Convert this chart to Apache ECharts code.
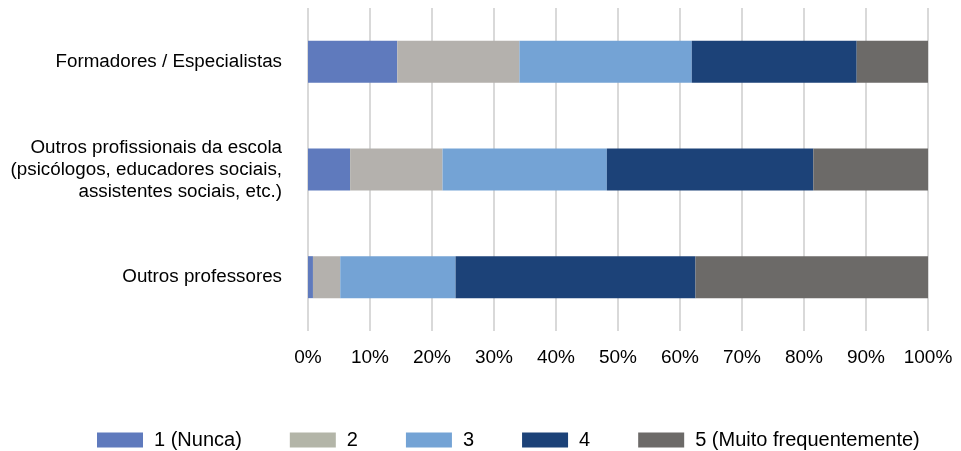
<!DOCTYPE html>
<html>
<head>
<meta charset="utf-8">
<script src="https://cdn.jsdelivr.net/npm/echarts@6/dist/echarts.min.js"></script>
<style>
  html, body { margin: 0; padding: 0; background: #fff; }
  #main { width: 961px; height: 451px; }
</style>
</head>
<body>
<div id="main"></div>
<script>
// categories bottom to top
let categories = [
  'Outros professores',
  'Outros profissionais da escola\n(psicólogos, educadores sociais,\nassistentes sociais, etc.)',
  'Formadores / Especialistas'
];
let seriesNames = ['1 (Nunca)', '2', '3', '4', '5 (Muito frequentemente)'];
let s1 = [0.8, 6.8, 14.4];
let s2 = [4.4, 14.9, 19.7];
let s3 = [18.6, 26.5, 27.8];
let s4 = [38.7, 33.3, 26.6];
let s5 = [37.5, 18.5, 11.5];
let colors = ['#5f7abd', '#b4b1ad', '#74a3d5', '#1c4278', '#6c6a68'];

let chartDom = document.getElementById('main');
let myChart = echarts.init(chartDom);

let values = [s1, s2, s3, s4, s5];
let series = values.map((v, i) => {
  return {
    name: seriesNames[i],
    type: 'bar',
    stack: 'total',
    barWidth: '39%',
    data: v,
    itemStyle: { color: colors[i] }
  };
});

let option = {
  animation: false,
  textStyle: { fontFamily: 'Liberation Sans' },
  grid: { left: 308, right: 33, top: 8, bottom: 120 },
  legend: {
    top: 425,
    left: 92,
    itemWidth: 46,
    itemHeight: 15,
    itemGap: 48,
    icon: 'rect',
    textStyle: { fontSize: 20, color: '#000', fontFamily: 'Liberation Sans', padding: [0, 0, 0, 6] },
    data: seriesNames.map((n, i) => ({ name: n, itemStyle: { color: i == 1 ? '#b3b5a8' : colors[i] } }))
  },
  xAxis: {
    type: 'value',
    min: 0,
    max: 100,
    interval: 10,
    axisLabel: { formatter: '{value}%', fontSize: 19, color: '#000', margin: 17 },
    axisLine: { show: false },
    axisTick: { show: false },
    splitLine: { lineStyle: { color: '#d9d9d9', width: 2 } }
  },
  yAxis: {
    type: 'category',
    data: categories,
    axisLine: { show: false },
    axisTick: { show: false },
    axisLabel: { fontSize: 18.8, color: '#000', margin: 26, lineHeight: 22, align: 'right' }
  },
  series: series
};

option && myChart.setOption(option);
</script>
</body>
</html>
